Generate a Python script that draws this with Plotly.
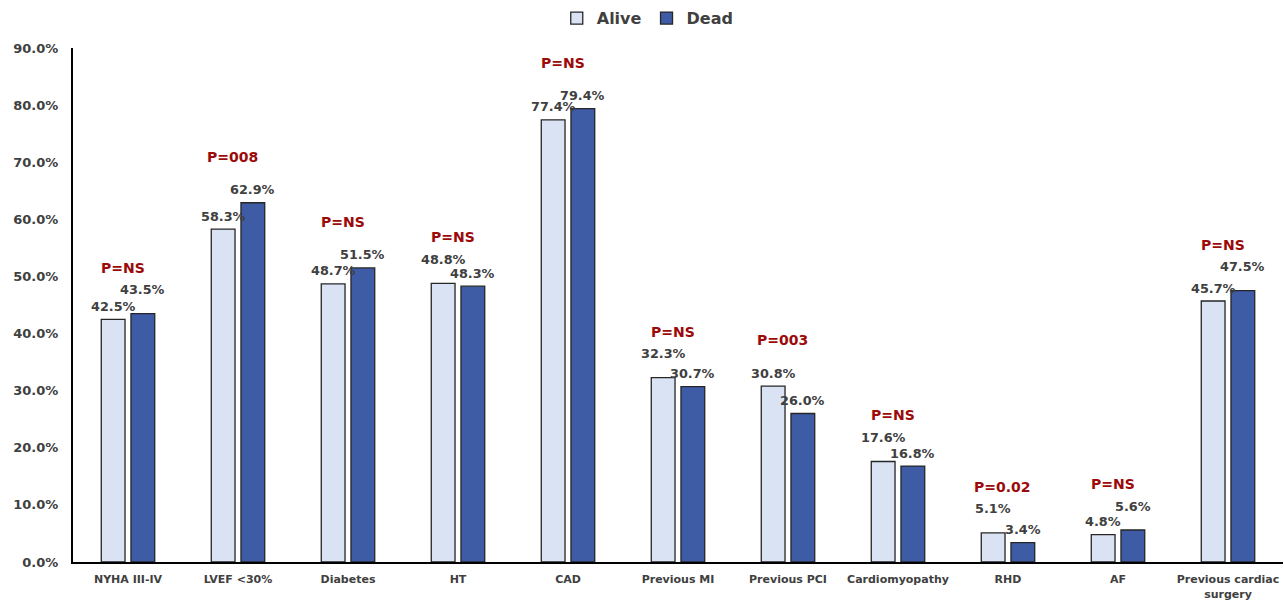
import plotly.graph_objects as go

categories = ["NYHA III-IV", "LVEF <30%", "Diabetes", "HT", "CAD", "Previous MI",
              "Previous PCI", "Cardiomyopathy", "RHD", "AF", "Previous cardiac<br>surgery"]
alive = [42.5, 58.3, 48.7, 48.8, 77.4, 32.3, 30.8, 17.6, 5.1, 4.8, 45.7]
dead = [43.5, 62.9, 51.5, 48.3, 79.4, 30.7, 26.0, 16.8, 3.4, 5.6, 47.5]
pvals = ["P=NS", "P=008", "P=NS", "P=NS", "P=NS", "P=NS", "P=003", "P=NS", "P=0.02", "P=NS", "P=NS"]
yticks = [0, 10, 20, 30, 40, 50, 60, 70, 80, 90]

FONT = "DejaVu Sans"
GREY = "#404040"
ALIVE_C = "#DAE3F3"
DEAD_C = "#3E5BA6"
RED = "#9C0A0A"

fig = go.Figure()
fig.add_trace(go.Bar(name="Alive", x=categories, y=alive,
                     marker=dict(color=ALIVE_C, line=dict(color="#262626", width=1.3))))
fig.add_trace(go.Bar(name="Dead", x=categories, y=dead,
                     marker=dict(color=DEAD_C, line=dict(color="#262626", width=1.3))))

annotations = []
for i, c in enumerate(categories):
    a, d = alive[i], dead[i]
    close = abs(a - d) < 2
    for val, other, shift in ((a, d, -0.135), (d, a, 0.135)):
        ys = 13 + (11 if (close and val >= other) else 0)
        annotations.append(dict(x=i + shift, y=val, xref="x", yref="y", text=f"{val:.1f}%",
                                showarrow=False, yshift=ys,
                                font=dict(family=FONT, size=12.8, color=GREY, weight="bold")))
    annotations.append(dict(x=i - 0.05, y=max(a, d), xref="x", yref="y", text=pvals[i],
                            showarrow=False, yshift=46,
                            font=dict(family=FONT, size=14, color=RED, weight="bold")))

fig.update_layout(
    width=1284, height=601,
    margin=dict(l=73, r=1, t=48, b=39, autoexpand=False),
    paper_bgcolor="white", plot_bgcolor="white",
    barmode="group", bargap=0.46, bargroupgap=0.2,
    showlegend=True,
    legend=dict(orientation="h", x=0.475, xanchor="center", y=1.058, yanchor="middle",
                font=dict(family=FONT, size=16, color=GREY, weight="bold"),
                itemwidth=30, tracegroupgap=0, traceorder="normal"),
    annotations=annotations,
    xaxis=dict(type="category", showline=True, linecolor="black", linewidth=2, ticks="",
               automargin=False, ticklabelstandoff=6,
               tickfont=dict(family=FONT, size=11, color=GREY, weight="bold"),
               showgrid=False, range=[-0.5, len(categories) - 0.5]),
    yaxis=dict(range=[0, 90], tickvals=yticks, ticktext=[f"{v:.1f}%" for v in yticks],
               showline=True, linecolor="black", linewidth=2, ticks="", showgrid=False,
               zeroline=False, ticklabelstandoff=10, automargin=False,
               tickfont=dict(family=FONT, size=13, color=GREY, weight="bold")),
)

fig.write_html("out.html", config={"displayModeBar": False},
               post_script="document.body.style.margin='0';document.body.style.overflow='hidden';")
